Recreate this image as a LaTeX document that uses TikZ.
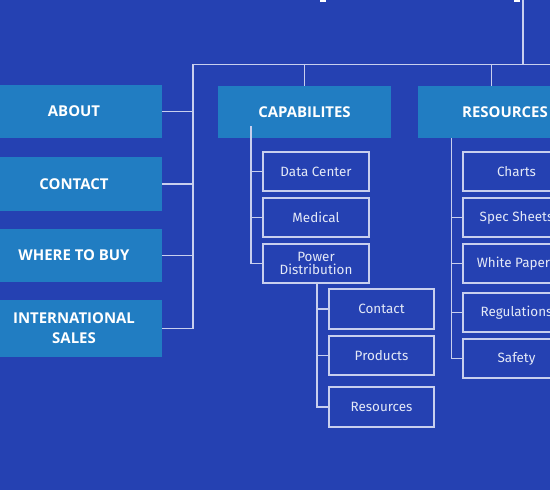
\documentclass[tikz,border=0pt]{standalone}
\usepackage{fontspec}
\setmainfont{Open Sans}
\newfontfamily\childfont{Fira Sans}
\usetikzlibrary{fit}
\definecolor{bg}{HTML}{2541B2}
\definecolor{boxc}{HTML}{217DC2}
\definecolor{lnc}{HTML}{C8CFEE}
\definecolor{txc}{HTML}{E4E9F7}
\begin{document}
\begin{tikzpicture}[x=1bp,y=-1bp,
  topbox/.style={fill=boxc, draw=none, text=white, inner sep=0pt,
    font=\bfseries\fontsize{15}{20}\selectfont, align=center},
  childbox/.style={fill=none, draw=lnc, line width=1.5bp, inner sep=0pt, text=txc,
    font=\childfont\fontsize{13.5}{13.5}\selectfont, align=center},
  conn/.style={draw=lnc, line width=1.5bp}]
\useasboundingbox (0,0) rectangle (550,490);
\clip (0,0) rectangle (550,490);
\fill[bg] (0,0) rectangle (550,490);
\fill[white] (320,0) rectangle (326,2);
\fill[white] (514,0) rectangle (520,2);

% top level boxes
\node[topbox, fit={(-10,85)(162,138)}] (about) {};
\node[topbox] at (about.center -| 74,0) {ABOUT};
\node[topbox, fit={(-10,157)(162,211)}] (contact) {};
\node[topbox] at (contact.center -| 74,0) {CONTACT};
\node[topbox, fit={(-10,229)(162,282)}] (where) {};
\node[topbox] at (where.center -| 74,0) {WHERE TO BUY};
\node[topbox, fit={(-10,300)(162,357)}] (intl) {};
\node[topbox] at (intl.center -| 74,0) {INTERNATIONAL\\SALES};
\node[topbox, fit={(218,86)(391,138)}] (cap) {};
\node[topbox] at (cap.center) {CAPABILITES};
\node[topbox, fit={(418,86)(592,138)}] (res) {};
\node[topbox] at (res.center) {RESOURCES};

% capabilities children
\node[childbox, fit={(263,152)(369,191)}] (dc) {};
\node[childbox, draw=none] at (dc.center) {Data Center};
\node[childbox, fit={(263,198)(369,237)}] (med) {};
\node[childbox, draw=none] at (med.center) {Medical};
\node[childbox, fit={(263,244)(369,283)}] (pd) {};
\node[childbox, draw=none] at (pd.center) {Power\\Distribution};

% power distribution children
\node[childbox, fit={(329,289)(434,329)}] (pcon) {};
\node[childbox, draw=none] at (pcon.center) {Contact};
\node[childbox, fit={(329,336)(434,375)}] (pprod) {};
\node[childbox, draw=none] at (pprod.center) {Products};
\node[childbox, fit={(329,387)(434,427)}] (pres) {};
\node[childbox, draw=none] at (pres.center) {Resources};

% resources children
\node[childbox, fit={(463,152)(570,191)}] (charts) {};
\node[childbox, draw=none] at (charts.center) {Charts};
\node[childbox, fit={(463,198)(570,237)}] (spec) {};
\node[childbox, draw=none] at (spec.center) {Spec Sheets};
\node[childbox, fit={(463,244)(570,283)}] (white) {};
\node[childbox, draw=none] at (white.center) {White Papers};
\node[childbox, fit={(463,293)(570,332)}] (reg) {};
\node[childbox, draw=none] at (reg.center) {Regulations};
\node[childbox, fit={(463,339)(570,378)}] (safety) {};
\node[childbox, draw=none] at (safety.center) {Safety};

% connectors
\coordinate (topc) at (523,-2);
\coordinate (hl) at (193,64.5);
\coordinate (hr) at (552,64.5);
\coordinate (rstub) at (491.7,64.5);
\coordinate (cs) at (251,126);
\coordinate (rs) at (451.7,138);
\draw[conn] (topc) -- (topc |- hl);
\draw[conn] (hr) -- (hl) |- (intl.east);
\draw[conn] (about.east) -- (about.east -| hl);
\draw[conn] (contact.east) -- (contact.east -| hl);
\draw[conn] (where.east) -- (where.east -| hl);
\draw[conn] (cap.north |- hl) -- (cap.north);
\draw[conn] (rstub) -- (rstub |- res.north);
\draw[conn] (cs) |- (pd.west);
\draw[conn] (dc.west) -- (dc.west -| cs);
\draw[conn] (med.west) -- (med.west -| cs);
\draw[conn] (pd.south -| 317,0) |- (pres.west);
\draw[conn] (pcon.west) -- (pcon.west -| 317,0);
\draw[conn] (pprod.west) -- (pprod.west -| 317,0);
\draw[conn] (rs) |- (safety.west);
\draw[conn] (spec.west) -- (spec.west -| rs);
\draw[conn] (white.west) -- (white.west -| rs);
\draw[conn] (reg.west) -- (reg.west -| rs);
\end{tikzpicture}
\end{document}
